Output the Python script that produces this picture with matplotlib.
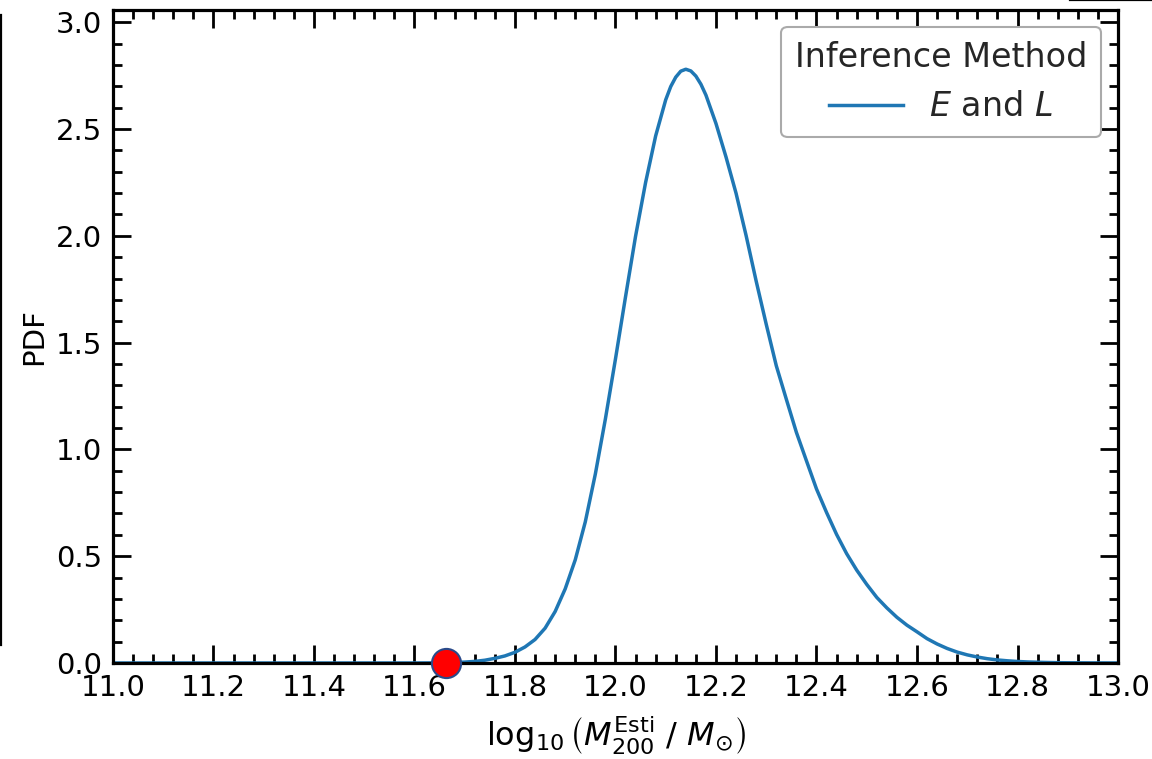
import matplotlib
matplotlib.use("Agg")
import matplotlib.pyplot as plt
from matplotlib.lines import Line2D
from matplotlib.ticker import MultipleLocator

# ---- data ----
mass = [11.00, 11.20, 11.40, 11.60, 11.62, 11.64, 11.66, 11.68, 11.70, 11.72, 11.74,
        11.76, 11.78, 11.80, 11.82, 11.84, 11.86, 11.88, 11.90, 11.92, 11.94,
        11.96, 11.98, 12.00, 12.02, 12.04, 12.06, 12.08, 12.10, 12.11, 12.12, 12.13,
        12.14, 12.15, 12.16, 12.17, 12.18, 12.20, 12.22, 12.24, 12.26, 12.28, 12.30,
        12.32, 12.34, 12.36, 12.38, 12.40, 12.42, 12.44, 12.46, 12.48, 12.50,
        12.52, 12.54, 12.56, 12.58, 12.60, 12.62, 12.64, 12.66, 12.68, 12.70,
        12.72, 12.74, 12.76, 12.78, 12.80, 12.82, 12.84, 12.86, 12.88, 12.90,
        12.95, 13.00]
pdf = [0.0, 0.0, 0.0, 0.0001, 0.0003, 0.0006, 0.0012, 0.0023, 0.0042, 0.0074, 0.0129,
       0.0217, 0.033, 0.050, 0.075, 0.110, 0.163, 0.241, 0.347, 0.483, 0.661,
       0.885, 1.143, 1.423, 1.714, 1.998, 2.250, 2.468, 2.637, 2.699, 2.743, 2.771,
       2.780, 2.772, 2.748, 2.710, 2.659, 2.526, 2.369, 2.199, 2.001, 1.788, 1.586,
       1.392, 1.235, 1.080, 0.947, 0.815, 0.705, 0.602, 0.512, 0.435, 0.368,
       0.307, 0.258, 0.214, 0.177, 0.146, 0.114, 0.089, 0.068, 0.051, 0.038,
       0.028, 0.020, 0.0143, 0.0102, 0.0071, 0.0049, 0.0034, 0.0023, 0.0015, 0.001,
       0.0004, 0.0001]
true_mass = [11.663]
true_pdf = [0.0]
series_label = r'$E$ and $L$'
legend_title = 'Inference Method'

fig = plt.figure(figsize=(11.52, 7.59), dpi=100)
ax = fig.add_axes([0.098, 0.1265, 0.8725, 0.8605])

ax.plot(mass, pdf, color='#1f77b4', lw=2.5, label=series_label)
ax.plot(true_mass, true_pdf, 'o', ms=21, mfc='red', mec='#2a4a8a', mew=1.5,
        clip_on=False, zorder=5)

ax.set_xlim(11.0, 13.0)
ax.set_ylim(0, 1.1 * max(pdf))
ax.xaxis.set_major_locator(MultipleLocator(0.2))
ax.xaxis.set_minor_locator(MultipleLocator(0.04))
ax.yaxis.set_major_locator(MultipleLocator(0.5))
ax.yaxis.set_minor_locator(MultipleLocator(0.1))
ax.tick_params(which='both', direction='in', top=True, right=True,
               width=2, labelsize=21, pad=8, colors='black')
ax.tick_params(which='major', length=13)
ax.tick_params(which='minor', length=6.5)
for s in ax.spines.values():
    s.set_linewidth(2.3)

ax.set_xlabel(r'$\log_{10}\left(M_{200}^{\mathrm{Esti}}\ /\ M_{\odot}\right)$',
              fontsize=23, labelpad=9)
ax.set_ylabel('PDF', fontsize=21, labelpad=5)

leg = ax.legend(title=legend_title, loc='upper right', fontsize=24,
                title_fontsize=24, frameon=True, fancybox=True,
                edgecolor='#aaaaaa', framealpha=1, borderpad=0.42,
                handlelength=2.2)
for t in leg.get_texts():
    t.set_color('#262626')
leg.get_title().set_color('#262626')
leg.get_frame().set_linewidth(1.5)

# edge artifacts from the cropped figure
fig.add_artist(Line2D([0.0012, 0.0012], [1 - 15 / 759, 1 - 645 / 759],
                      transform=fig.transFigure, color='black', lw=1.6))
fig.add_artist(Line2D([1070 / 1152, 1.0], [0.9995, 0.9995],
                      transform=fig.transFigure, color='black', lw=1.6))

fig.savefig('out.png', dpi=100)
